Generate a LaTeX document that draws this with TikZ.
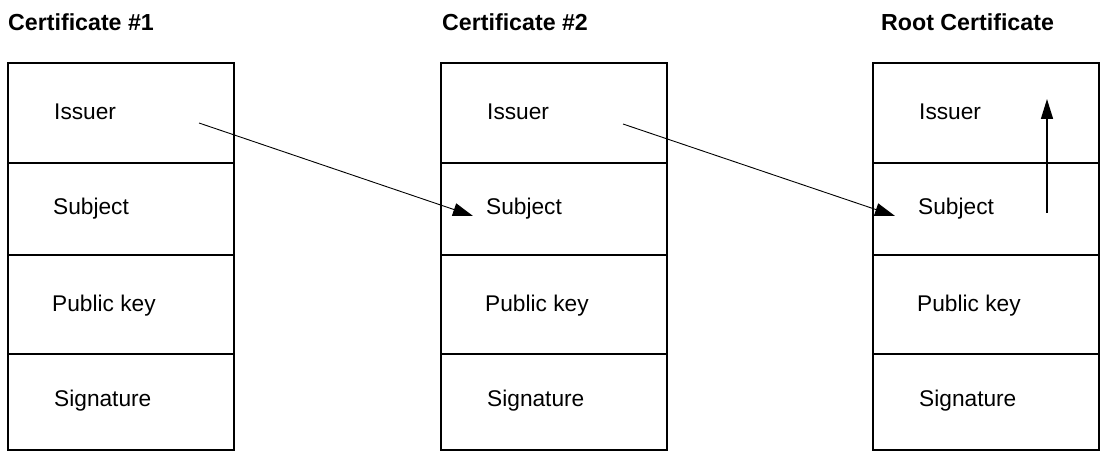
\documentclass[tikz,border=0pt]{standalone}
\usepackage{fontspec}
\setmainfont{Liberation Sans}
\usetikzlibrary{arrows.meta,calc}
\begin{document}
\begin{tikzpicture}[x=1pt,y=-1pt,
  rowbox/.style={draw, line width=1.4pt, minimum width=226pt, anchor=north west,
                 inner sep=0pt, outer sep=0pt},
  field/.style={anchor=base west, inner sep=0pt, font=\fontsize{22.7}{26}\selectfont},
  title/.style={anchor=base west, inner sep=0pt, font=\fontsize{23.2}{27}\selectfont\bfseries},
  link/.style={line width=0.9pt, -{Triangle[length=20pt,width=13pt]}},
  selflink/.style={line width=1.5pt, -{Triangle[length=20pt,width=12pt]}}]
  \useasboundingbox (0,0) rectangle (1101,457);

  % titles
  \node[title] (t1) at (8,31) {Certificate \#1};
  \node[title] (t2) at (442,31) {Certificate \#2};
  \node[title] (t3) at (881,31) {Root Certificate};

  % three certificates, four fields each
  \foreach \c/\x in {1/8, 2/441, 3/873} {
    \node[rowbox, minimum height=100pt] (c\c r1) at (\x,63) {};
    \node[rowbox, minimum height=92pt]  (c\c r2) at (\x,163) {};
    \node[rowbox, minimum height=99pt]  (c\c r3) at (\x,255) {};
    \node[rowbox, minimum height=96pt]  (c\c r4) at (\x,354) {};
    \node[field] (c\c f1) at (\x+46,120) {Issuer};
    \node[field] (c\c f2) at (\x+45,215) {Subject};
    \node[field] (c\c f3) at (\x+44,312) {Public key};
    \node[field] (c\c f4) at (\x+46,406) {Signature};
  }

  % issuer of each certificate points to the subject of the next one
  \coordinate (i1) at ($(c1r1.center)+(78,10)$);
  \coordinate (s2) at ($(c2r2.center)+(-81,7)$);
  \coordinate (i2) at ($(c2r1.center)+(69,11)$);
  \coordinate (s3) at ($(c3r2.center)+(-91,7)$);
  \draw[link] (i1) -- (s2);
  \draw[link] (i2) -- (s3);

  % root certificate is self-signed
  \coordinate (rs) at ($(c3r2.center)+(61,4)$);
  \coordinate (ri) at ($(c3r1.center)+(61,-14)$);
  \draw[selflink] (rs) -- (ri);
\end{tikzpicture}
\end{document}
